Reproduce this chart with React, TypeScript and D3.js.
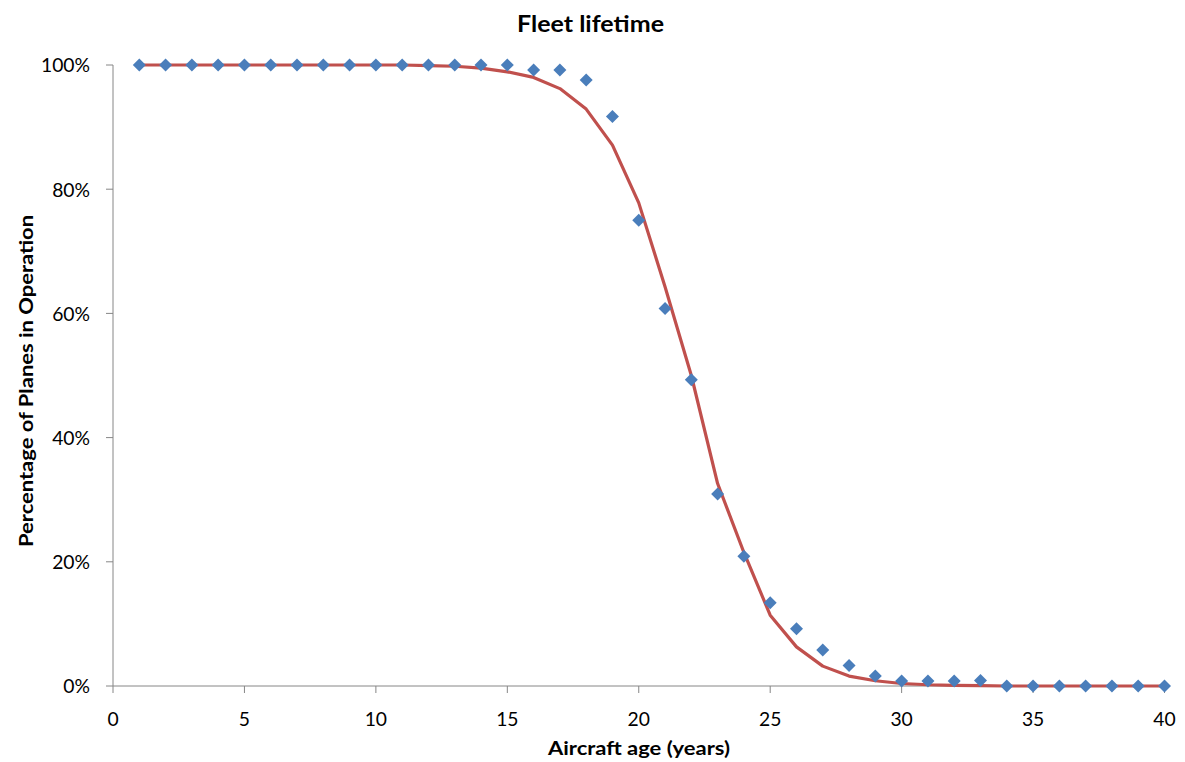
import React from "react";
import * as d3 from "d3";

const ages = Array.from({ length: 40 }, (_, i) => i + 1);
const observed = [
  100, 100, 100, 100, 100, 100, 100, 100, 100, 100,
  100, 100, 100, 100, 100, 99.2, 99.2, 97.6, 91.7, 75.0,
  60.8, 49.3, 30.9, 20.9, 13.4, 9.2, 5.8, 3.3, 1.6, 0.8,
  0.8, 0.8, 0.9, 0, 0, 0, 0, 0, 0, 0,
];
const fitted = [
  100, 100, 100, 100, 100, 100, 100, 100, 100, 100,
  100, 99.9, 99.8, 99.5, 98.9, 98.0, 96.2, 92.9, 87.1, 77.8,
  64.3, 50.0, 32.6, 21.5, 11.4, 6.3, 3.2, 1.6, 0.85, 0.4,
  0.2, 0.1, 0.05, 0, 0, 0, 0, 0, 0, 0,
];
const xTicks = [0, 5, 10, 15, 20, 25, 30, 35, 40];
const yTicks = [0, 20, 40, 60, 80, 100];

const W = 1185;
const H = 762;
const FONT = "Lato, 'Open Sans', sans-serif";

export default function App() {
  const x = d3.scaleLinear().domain([0, 40]).range([113, 1164.5]);
  const y = d3.scaleLinear().domain([0, 100]).range([686, 65]);
  const line = d3
    .line<number>()
    .x((_, i) => x(ages[i]))
    .y((d) => y(d));
  const axisColor = "#868686";
  return (
    <svg width={W} height={H} style={{ position: "absolute", left: 0, top: 0, background: "#fff" }}>
      <text x={590.5} y={32} textAnchor="middle" fontFamily={FONT} fontWeight="bold" fontSize={22}
        textLength={147} lengthAdjust="spacingAndGlyphs" fill="#000">
        Fleet lifetime
      </text>
      {/* y axis */}
      <line x1={x(0)} x2={x(0)} y1={y(0)} y2={y(100)} stroke={axisColor} strokeWidth={1} />
      {yTicks.map((t) => (
        <g key={"y" + t}>
          <line x1={x(0) - 7} x2={x(0)} y1={y(t)} y2={y(t)} stroke={axisColor} />
          <text x={90} y={y(t) + 7.3} textAnchor="end" fontFamily={FONT} fontSize={19.3} fill="#000">
            {t}%
          </text>
        </g>
      ))}
      {/* x axis */}
      <line x1={x(0)} x2={x(40)} y1={y(0)} y2={y(0)} stroke={axisColor} strokeWidth={1} />
      {xTicks.map((t) => (
        <g key={"x" + t}>
          <line x1={x(t)} x2={x(t)} y1={y(0)} y2={y(0) + 7} stroke={axisColor} />
          <text x={x(t)} y={726} textAnchor="middle" fontFamily={FONT} fontSize={19.3} fill="#000">
            {t}
          </text>
        </g>
      ))}
      <text x={639} y={755} textAnchor="middle" fontFamily={FONT} fontWeight="bold" fontSize={18.5}
        textLength={182} lengthAdjust="spacingAndGlyphs" fill="#000">
        Aircraft age (years)
      </text>
      <text
        transform={`translate(33,381) rotate(-90)`}
        textAnchor="middle"
        fontFamily={FONT}
        fontWeight="bold"
        fontSize={18.5}
        textLength={332}
        lengthAdjust="spacingAndGlyphs"
        fill="#000"
      >
        Percentage of Planes in Operation
      </text>
      <path d={line(fitted) || ""} fill="none" stroke="#C0504D" strokeWidth={3.2} strokeLinejoin="round" />
      {observed.map((v, i) => {
        const cx = x(ages[i]);
        const cy = y(v);
        const r = 6.5;
        return (
          <path
            key={i}
            d={`M${cx},${cy - r}L${cx + r},${cy}L${cx},${cy + r}L${cx - r},${cy}Z`}
            fill="#4A7EBB"
          />
        );
      })}
    </svg>
  );
}
